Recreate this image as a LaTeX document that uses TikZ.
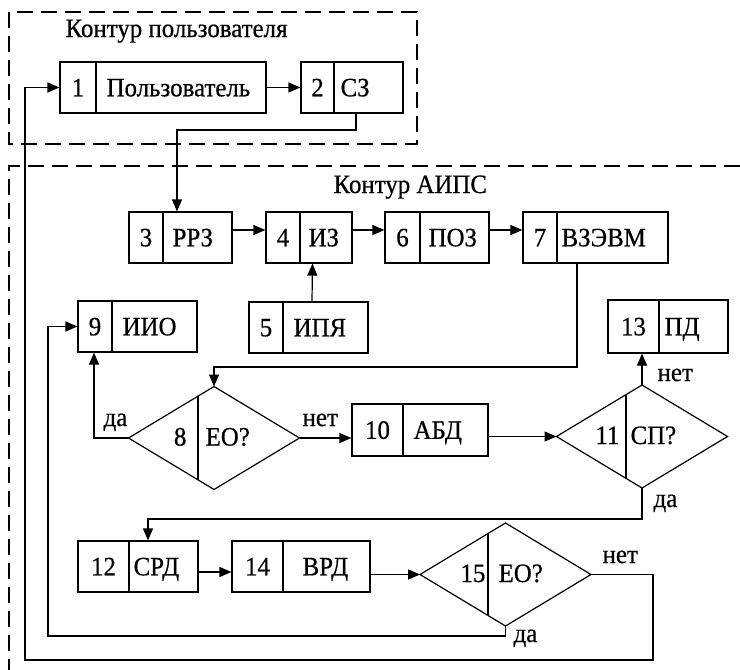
\documentclass[tikz,border=0pt]{standalone}
\usepackage{fontspec}
\setmainfont{Liberation Serif}[FakeBold=0.6, FakeStretch=0.94]
\usetikzlibrary{arrows.meta,shapes.geometric,calc}
\tikzset{
  blkbox/.style={draw, rectangle, inner sep=0pt},
  dmdshape/.style={draw, diamond, inner sep=0pt, outer sep=0pt, minimum width=171pt, minimum height=103pt},
  arr/.style={-{Triangle[length=12pt,width=10pt]}},
  txt/.style={inner sep=0pt},
  contour/.style={dash pattern=on 16pt off 8pt}
}
\newcommand\mkblk[9]{%
  \node[blkbox, minimum width={(#4-#2)*1pt}, minimum height={(#6-#5)*1pt}] (#1) at ({(#2+#4)/2},{(#5+#6)/2}) {};
  \draw (#3,#5) -- (#3,#6);
  \node[txt, anchor=base] (#1n) at ({(#2+#3)/2},{(#5+#6)/2+8.8}) {#7};
  \node[txt, anchor=base west] (#1t) at ({#3+#9},{(#5+#6)/2+8.8}) {#8};
}
\newcommand\mkdmd[8]{%
  \node[dmdshape] (#1) at (#2,#3) {};
  \pgfmathsetmacro\dmdt{(#4-#2+85.5)/85.5}
  \draw ($(#1.west)!\dmdt!(#1.north)$) -- ($(#1.west)!\dmdt!(#1.south)$);
  \node[txt, anchor=base east] (#1n) at (#6,{#3+7.5}) {#5};
  \node[txt, anchor=base west] (#1t) at (#8,{#3+7.5}) {#7};
}
\begin{document}
\begin{tikzpicture}[x=1pt, y=-1pt, line width=1.2pt, font=\fontsize{26.5}{31}\selectfont]
\useasboundingbox (0,0) rectangle (740,670);

% contours
\draw[contour] (9,12) rectangle (417,144);
\draw[contour] (740,166) -- (9,166) -- (9,670);
\node[txt, anchor=base west] (cap1) at (65,37) {Контур пользователя};
\node[txt, anchor=base west] (cap2) at (333,193) {Контур АИПС};

% blocks
\mkblk{b1}{60}{96}{266}{62}{113}{1}{Пользователь}{10}
\mkblk{b2}{301}{334}{403}{62}{113}{2}{СЗ}{6}
\mkblk{b3}{129}{163}{232}{212}{263}{3}{РРЗ}{9}
\mkblk{b4}{266}{300}{352}{212}{263}{4}{ИЗ}{8}
\mkblk{b6}{385}{420}{489}{212}{263}{6}{ПОЗ}{8}
\mkblk{b7}{523}{557}{668}{212}{263}{7}{ВЗЭВМ}{4}
\mkblk{b5}{249}{283}{368}{302}{353}{5}{ИПЯ}{10}
\mkblk{b9}{78}{112}{197}{301}{352}{9}{ИИО}{10}
\mkblk{b13}{608}{659}{728}{300}{353}{13}{ПД}{5}
\mkblk{b10}{352}{403}{488}{404}{456}{10}{АБД}{10}
\mkblk{b12}{78}{129}{198}{541}{592}{12}{СРД}{4}
\mkblk{b14}{232}{283}{370}{541}{592}{14}{ВРД}{19}

% decisions
\mkdmd{d8}{214}{438}{198}{8}{187}{ЕО?}{205}
\mkdmd{d11}{642}{436.5}{626}{11}{620}{СП?}{630}
\mkdmd{d15}{505.5}{574.5}{488}{15}{486}{ЕО?}{498}

% connectors
\draw[arr] (b1.east) -- (b2.west);
\coordinate (k3a) at (356,130);
\coordinate (k3b) at (177,130);
\draw[arr] (b2.south -| k3a) -- (k3a) -- (k3b) -- (k3b |- b3.north);
\draw[arr] ([yshift=7.5pt]b3.east) -- ([yshift=7.5pt]b4.west);
\draw[arr] ([yshift=7.5pt]b4.east) -- ([yshift=7.5pt]b6.west);
\draw[arr] ([yshift=7.5pt]b6.east) -- ([yshift=7.5pt]b7.west);
\draw[arr] ([xshift=3.5pt]b5.north) -- ([xshift=3.5pt]b4.south);
\coordinate (k7) at (577,367);
\draw[arr] (b7.south -| k7) -- (k7) -| (d8.north);
\coordinate (k9) at (94,438);
\draw[arr] (d8.west) -- (k9) -- (k9 |- b9.south);
\draw[arr] (d8.east) -- (d8.east -| b10.west);
\draw[arr] (b10.east |- d11.west) -- (d11.west);
\draw[arr] (d11.north) -- (d11.north |- b13.south);
\coordinate (k12) at (148,519);
\draw[arr] (d11.south) |- (k12) -- (k12 |- b12.north);
\draw[arr] ([yshift=-5.5pt]b12.east) -- ([yshift=-5.5pt]b14.west);
\draw[arr] (b14.east |- d15.west) -- (d15.west);
\coordinate (k15a) at (653,660);
\coordinate (k15b) at (25,660);
\draw[arr] (d15.east) -| (k15a) -- (k15b) |- (b1.west);
\coordinate (k15c) at (48,636);
\draw[arr] (d15.south) |- (k15c) |- (b9.west);

% branch labels
\node[txt, anchor=base west] (lda8) at (103,426) {да};
\node[txt, anchor=base west] (lnet8) at (302,426) {нет};
\node[txt, anchor=base west] (lnet11) at (657,381) {нет};
\node[txt, anchor=base west] (lda11) at (653,507) {да};
\node[txt, anchor=base west] (lnet15) at (602,563) {нет};
\node[txt, anchor=base west] (lda15) at (513,642) {да};
\end{tikzpicture}
\end{document}
